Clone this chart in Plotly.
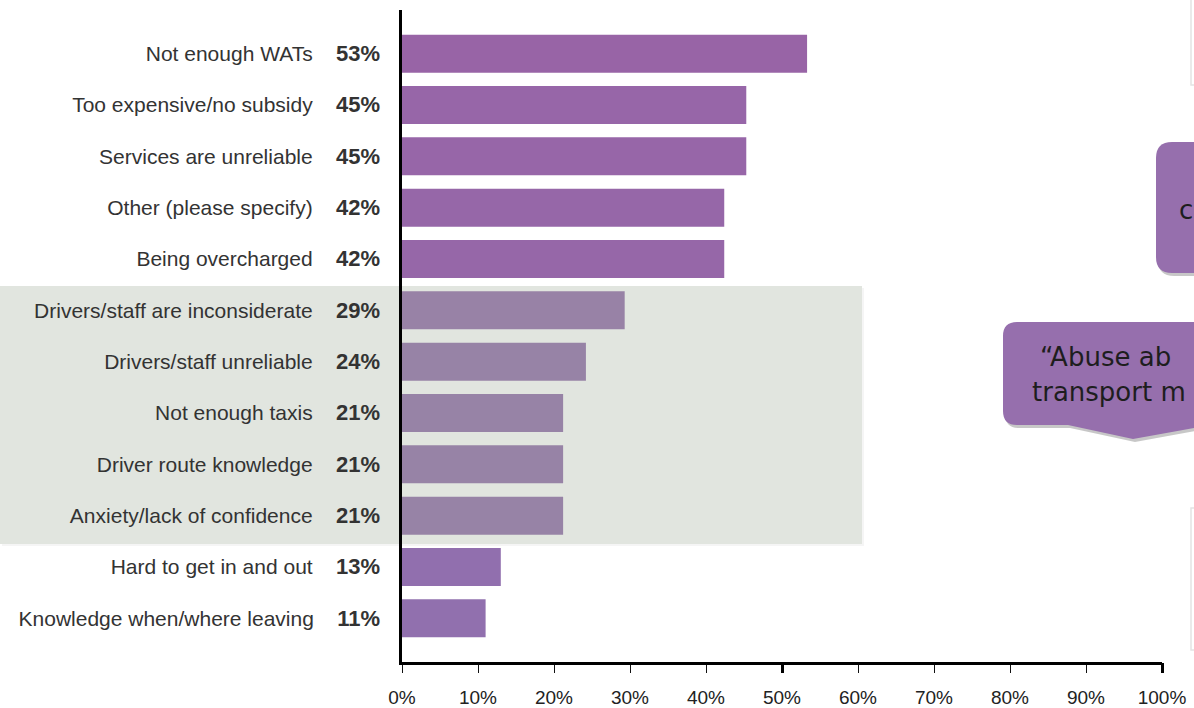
import plotly.graph_objects as go

categories = [
    "Not enough WATs", "Too expensive/no subsidy", "Services are unreliable",
    "Other (please specify)", "Being overcharged", "Drivers/staff are inconsiderate",
    "Drivers/staff unreliable", "Not enough taxis", "Driver route knowledge",
    "Anxiety/lack of confidence", "Hard to get in and out", "Knowledge when/where leaving",
]
values = [53.3, 45.3, 45.3, 42.4, 42.4, 29.3, 24.2, 21.2, 21.2, 21.2, 13.0, 11.0]
pct_labels = ["53%", "45%", "45%", "42%", "42%", "29%", "24%", "21%", "21%", "21%", "13%", "11%"]
highlight = ["Drivers/staff are inconsiderate", "Drivers/staff unreliable", "Not enough taxis",
             "Driver route knowledge", "Anxiety/lack of confidence"]
x_ticks = [0, 10, 20, 30, 40, 50, 60, 70, 80, 90, 100]
x_ticktext = ["0%", "10%", "20%", "30%", "40%", "50%", "60%", "70%", "80%", "90%", "100%"]
callout_texts = ["c", "\u201cAbuse ab", "transport m"]

# layout geometry (pixels)
L, R, T, B = 402, 32, 10, 46
W, H = 1194, 708
PW, PH = W - L - R, H - T - B


def px(x):
    return (x - L) / PW


def py(y):
    return (H - B - y) / PH


def mix(c1, c2, t):
    a = [int(c1[i:i + 2], 16) for i in (1, 3, 5)]
    b = [int(c2[i:i + 2], 16) for i in (1, 3, 5)]
    return "#%02x%02x%02x" % tuple(round(a[k] + (b[k] - a[k]) * t) for k in range(3))


colors = []
for c, v in zip(categories, values):
    t = (v / 2) / 53.3
    if c in highlight:
        colors.append(mix("#9685a6", "#9a7ea5", t * 1.5))
    else:
        colors.append(mix("#8f73b0", "#a1549c", t))

idx = list(range(len(categories)))
ticktext = [f"{c}\u00a0\u00a0\u00a0\u00a0<span style='font-size:22px'><b>{p}</b></span>"
            for c, p in zip(categories, pct_labels)]

fig = go.Figure()
fig.add_trace(go.Bar(
    x=values, y=idx, orientation="h", width=0.74,
    marker=dict(color=colors, line=dict(width=0)),
    hoverinfo="skip", showlegend=False,
))
# thicker major ticks at 50% / 100%
fig.add_trace(go.Scatter(x=[0, 100], y=[0, 0], xaxis="x2", mode="markers",
                         marker=dict(opacity=0), showlegend=False, hoverinfo="skip"))


def rrect(x0, y0, x1, y1, r):
    return (f"M {px(x0 + r)} {py(y0)} L {px(x1 - r)} {py(y0)} "
            f"Q {px(x1)} {py(y0)} {px(x1)} {py(y0 + r)} L {px(x1)} {py(y1 - r)} "
            f"Q {px(x1)} {py(y1)} {px(x1 - r)} {py(y1)} L {px(x0 + r)} {py(y1)} "
            f"Q {px(x0)} {py(y1)} {px(x0)} {py(y1 - r)} L {px(x0)} {py(y0 + r)} "
            f"Q {px(x0)} {py(y0)} {px(x0 + r)} {py(y0)} Z")


def callout2(dx=0, dy=0):
    x0, y0, x1, y1, r = 1003 + dx, 322 + dy, 1300 + dx, 425 + dy, 14
    return (f"M {px(x0 + r)} {py(y0)} L {px(x1)} {py(y0)} L {px(x1)} {py(y1)} "
            f"L {px(1194 + dx)} {py(428 + dy)} L {px(1133 + dx)} {py(439 + dy)} "
            f"L {px(1068 + dx)} {py(y1)} L {px(x0 + r)} {py(y1)} "
            f"Q {px(x0)} {py(y1)} {px(x0)} {py(y1 - r)} L {px(x0)} {py(y0 + r)} "
            f"Q {px(x0)} {py(y0)} {px(x0 + r)} {py(y0)} Z")


shapes = [
    # highlight band
    dict(type="rect", xref="paper", yref="paper", x0=px(2), x1=px(864), y0=py(546), y1=py(288),
         fillcolor="rgba(0,0,0,0.04)", line=dict(width=0), layer="below"),
    dict(type="rect", xref="paper", yref="paper", x0=px(0), x1=px(862), y0=py(544), y1=py(286),
         fillcolor="#e1e5df", line=dict(width=0), layer="below"),
    # faint callouts at right edge
    dict(type="rect", xref="paper", yref="paper", x0=px(1191), x1=px(1260), y0=py(85), y1=py(-20),
         fillcolor="white", line=dict(color="#e4e4e4", width=1.5), layer="below"),
    dict(type="rect", xref="paper", yref="paper", x0=px(1191), x1=px(1260), y0=py(650), y1=py(508),
         fillcolor="white", line=dict(color="#e4e4e4", width=1.5), layer="below"),
    # callout 1 (shadow + box)
    dict(type="path", xref="paper", yref="paper", path=rrect(1158, 145, 1320, 276, 16),
         fillcolor="rgba(0,0,0,0.22)", line=dict(width=0), layer="above"),
    dict(type="path", xref="paper", yref="paper", path=rrect(1156, 142, 1318, 273, 16),
         fillcolor="#966fad", line=dict(width=0), layer="above"),
    # callout 2 (shadow + box)
    dict(type="path", xref="paper", yref="paper", path=callout2(2, 3),
         fillcolor="rgba(0,0,0,0.22)", line=dict(width=0), layer="above"),
    dict(type="path", xref="paper", yref="paper", path=callout2(),
         fillcolor="#966fad", line=dict(width=0), layer="above"),
]

cfont = dict(family="DejaVu Sans", size=26, color="#1e1e1e")
annotations = [
    dict(xref="paper", yref="paper", x=px(1177), y=py(210), text=callout_texts[0], showarrow=False,
         xanchor="left", yanchor="middle", font=cfont),
    dict(xref="paper", yref="paper", x=px(1038), y=py(357), showarrow=False,
         text=callout_texts[1], xanchor="left", yanchor="middle", font=cfont),
    dict(xref="paper", yref="paper", x=px(1030), y=py(392), showarrow=False,
         text=callout_texts[2], xanchor="left", yanchor="middle", font=cfont),
]

fig.update_layout(
    width=W, height=H,
    margin=dict(l=L, r=R, t=T, b=B, autoexpand=False),
    paper_bgcolor="white", plot_bgcolor="rgba(0,0,0,0)",
    bargap=0.26,
    shapes=shapes, annotations=annotations,
    xaxis=dict(
        range=[0, 100], tickvals=x_ticks, ticktext=x_ticktext,
        ticks="outside", ticklen=8, tickwidth=1, tickcolor="#111",
        showline=True, linecolor="#000", linewidth=2.5,
        showgrid=False, zeroline=False, fixedrange=True,
        tickfont=dict(family="Liberation Sans, Arial", size=19, color="#222"),
        ticklabelstandoff=8,
    ),
    xaxis2=dict(
        range=[0, 100], overlaying="x", side="bottom", anchor="y",
        tickvals=[50, 100], ticks="outside", ticklen=10, tickwidth=2.5, tickcolor="#000",
        showticklabels=False, showgrid=False, zeroline=False, showline=False,
    ),
    yaxis=dict(
        range=[11.85, -0.85], tickvals=idx, ticktext=ticktext,
        showline=True, linecolor="#000", linewidth=2.5,
        ticks="", showgrid=False, zeroline=False, fixedrange=True,
        tickfont=dict(family="Liberation Sans, Arial", size=21, color="#333"),
        ticklabelstandoff=15,
    ),
    font=dict(family="Liberation Sans, Arial"),
)

fig.write_html("out.html", config={"displayModeBar": False},
               post_script="document.body.style.margin='0';document.body.style.overflow='hidden';")
